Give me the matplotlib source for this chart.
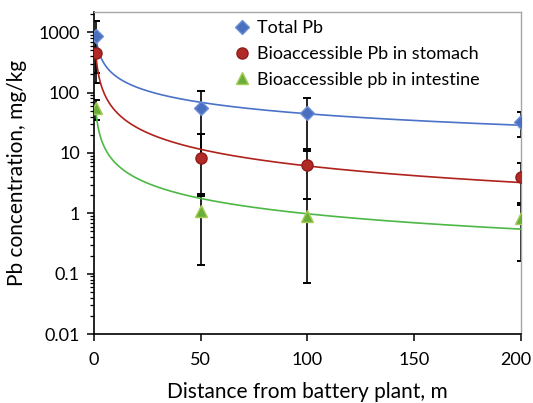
import numpy as np
import matplotlib
matplotlib.use("Agg")
import matplotlib.pyplot as plt
import matplotlib.transforms as mtransforms
from matplotlib.ticker import FixedLocator, LogLocator, NullFormatter

plt.rcParams['font.family'] = ['Lato', 'DejaVu Sans']

# Data
distance = [1, 50, 100, 200]
total_pb = [860, 55, 46, 33]
total_sd = [650, 53.1, 34.5, 14.5]
stomach_pb = [445, 8.3, 6.2, 4.05]
stomach_sd = [300, 12.2, 4.45, 2.7]
intestine_pb = [55, 1.1, 0.91, 0.83]
intestine_sd = [20, 0.96, 0.84, 0.67]

series_names = ["Total Pb", "Bioaccessible Pb in stomach", "Bioaccessible pb in intestine"]
y_ticks = [0.01, 0.1, 1, 10, 100, 1000]
y_ticklabels = ["0.01", "0.1", "1", "10", "100", "1000"]
x_ticks = [0, 50, 100, 150, 200]

fig = plt.figure(figsize=(5.33, 4.03), dpi=100)
ax = fig.add_axes([0.176, 0.171, 0.801, 0.799])

series = [
    (total_pb, total_sd, dict(marker='D', color='#4A6FBF', mec='#6C8FD6', ms=7.5), '#4A72C8'),
    (stomach_pb, stomach_sd, dict(marker='o', color='#B22A26', mec='#8E1C1A', ms=8), '#B0221C'),
    (intestine_pb, intestine_sd, dict(marker='^', color='#6AAE3A', mec='#A8CC5A', ms=8.5), '#4DB845'),
]

x = np.array(distance, dtype=float)
xs = np.linspace(1, 200, 400)

# Error bars (drawn behind markers)
for vals, sd, mk, lc in series:
    v = np.array(vals, float); s = np.array(sd, float)
    hi = v + s
    lo = v - s
    for xi, vi, h, l in zip(x, v, hi, lo):
        bottom = l if l > 0 else vi
        ax.plot([xi, xi], [bottom, h], color='black', lw=1.2, zorder=2)
        ax.plot([xi], [h], marker='_', ms=6, mew=1.4, color='black', zorder=2)
        if l > 0:
            ax.plot([xi], [l], marker='_', ms=6, mew=1.4, color='black', zorder=2)

# Power trendlines fitted to the data
for vals, sd, mk, lc in series:
    b, loga = np.polyfit(np.log(x), np.log(np.array(vals, float)), 1)
    ax.plot(xs, np.exp(loga) * xs ** b, color=lc, lw=1.2, zorder=3)

# Markers
handles = []
for (vals, sd, mk, lc), name in zip(series, series_names):
    h, = ax.plot(x, vals, linestyle='none', zorder=4, label=name, **mk)
    handles.append(h)

ax.set_yscale('log')
ax.set_ylim(0.01, 2150)
ax.set_xlim(0, 200)
ax.yaxis.set_major_locator(FixedLocator(y_ticks))
ax.set_yticklabels(y_ticklabels)
ax.yaxis.set_minor_locator(LogLocator(base=10, subs=np.arange(2, 10)))
ax.yaxis.set_minor_formatter(NullFormatter())
ax.set_xticks(x_ticks)

ax.tick_params(axis='both', which='major', direction='out', length=5, width=1.1,
               labelsize=13, colors='black')
ax.tick_params(axis='y', which='minor', direction='out', length=3, width=0.9)
ax.tick_params(axis='x', which='major', pad=8)
ax.tick_params(axis='y', which='major', pad=5)

# keep the last x tick label inside the figure
last = ax.get_xticklabels()[-1]
last.set_transform(last.get_transform() + mtransforms.ScaledTranslation(-5 / 100, 0, fig.dpi_scale_trans))

for sp in ['left', 'bottom']:
    ax.spines[sp].set_color('black')
    ax.spines[sp].set_linewidth(1.2)
for sp in ['top', 'right']:
    ax.spines[sp].set_color('#A6A6A6')
    ax.spines[sp].set_linewidth(1.0)

ax.set_xlabel("Distance from battery plant, m", fontsize=15, labelpad=10)
ax.set_ylabel("Pb concentration, mg/kg", fontsize=15, labelpad=8)

leg = ax.legend(handles=handles, loc='upper left', bbox_to_anchor=(0.30, 1.015),
                frameon=False, fontsize=13, handlelength=0.8, handletextpad=0.45,
                labelspacing=0.55, borderaxespad=0.3)

fig.savefig("out.png", dpi=100)
